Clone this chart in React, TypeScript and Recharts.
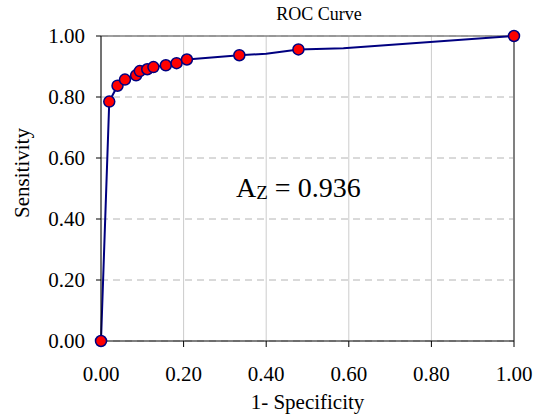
import React from 'react'
import {
  ComposedChart,
  Line,
  Scatter,
  XAxis,
  YAxis,
  CartesianGrid,
  ReferenceLine,
  Label
} from 'recharts'

// ROC operating points (1 - specificity, sensitivity)
const fpr = [0, 0.02, 0.04, 0.058, 0.085, 0.094, 0.112, 0.127, 0.157, 0.183, 0.208, 0.335, 0.478, 1]
const tpr = [0, 0.785, 0.837, 0.857, 0.871, 0.885, 0.891, 0.898, 0.904, 0.911, 0.923, 0.937, 0.956, 1]

// curve also passes through a couple of unmarked bends
const bendX = [0.4, 0.587]
const bendY = [0.942, 0.96]

const ticks = [0, 0.2, 0.4, 0.6, 0.8, 1]

const points = fpr.map((x, i) => ({ x, y: tpr[i] }))
const curve = [...points, ...bendX.map((x, i) => ({ x, y: bendY[i] }))].sort((a, b) => a.x - b.x)

const font = '"Liberation Serif", "Times New Roman", serif'
const fmt = (v: number) => v.toFixed(2)

const Dot = (props: any) => (
  <circle cx={props.cx} cy={props.cy} r={5.5} fill="#ff0000" stroke="#000080" strokeWidth={1.5} />
)

export default function App() {
  return (
    <div style={{ position: 'absolute', left: 0, top: 0, width: 536, height: 417, background: '#fff', fontFamily: font }}>
      <div style={{ position: 'absolute', left: 0, width: 536, top: 4, textAlign: 'center', paddingLeft: 102, boxSizing: 'border-box', fontSize: 18, color: '#000', fontFamily: font }}>
        ROC Curve
      </div>
      <ComposedChart width={536} height={417} margin={{ top: 36, right: 22, left: 0, bottom: 0 }} style={{ fontFamily: font }}>
        <CartesianGrid vertical={false} stroke="#b4b4b4" strokeDasharray="7 5" />
        <CartesianGrid horizontal={false} stroke="#cccccc" />
        <XAxis
          type="number"
          dataKey="x"
          domain={[0, 1]}
          ticks={ticks}
          tickFormatter={fmt}
          height={76}
          tickSize={6}
          tickMargin={19}
          stroke="#000"
          tick={{ fill: '#000', fontSize: 21, fontFamily: font }}
        >
          <Label value="1- Specificity" position="insideBottom" offset={8} style={{ fill: '#000', fontSize: 21, fontFamily: font }} />
        </XAxis>
        <YAxis
          type="number"
          dataKey="y"
          domain={[0, 1]}
          ticks={ticks}
          tickFormatter={fmt}
          width={101}
          tickSize={5}
          tickMargin={11}
          stroke="#000"
          tick={{ fill: '#000', fontSize: 21, fontFamily: font }}
          label={{
            content: () => (
              <text transform="translate(29,173) rotate(-90)" textAnchor="middle" fontSize={21} fill="#000" style={{ fontFamily: font }}>
                Sensitivity
              </text>
            )
          }}
        />
        <ReferenceLine y={1} stroke="#808080" strokeWidth={1.5} />
        <ReferenceLine x={1} stroke="#808080" strokeWidth={2} />
        <Line data={curve} dataKey="y" type="linear" stroke="#000080" strokeWidth={2} dot={false} isAnimationActive={false} />
        <Scatter data={points} dataKey="y" shape={Dot} isAnimationActive={false} />
      </ComposedChart>
      <div style={{ position: 'absolute', left: 236, top: 172, fontSize: 28, color: '#000', whiteSpace: 'nowrap', fontFamily: font }}>
        A<sub style={{ fontSize: 19, verticalAlign: 'baseline', position: 'relative', top: 2 }}>Z</sub> = 0.936
      </div>
    </div>
  )
}
